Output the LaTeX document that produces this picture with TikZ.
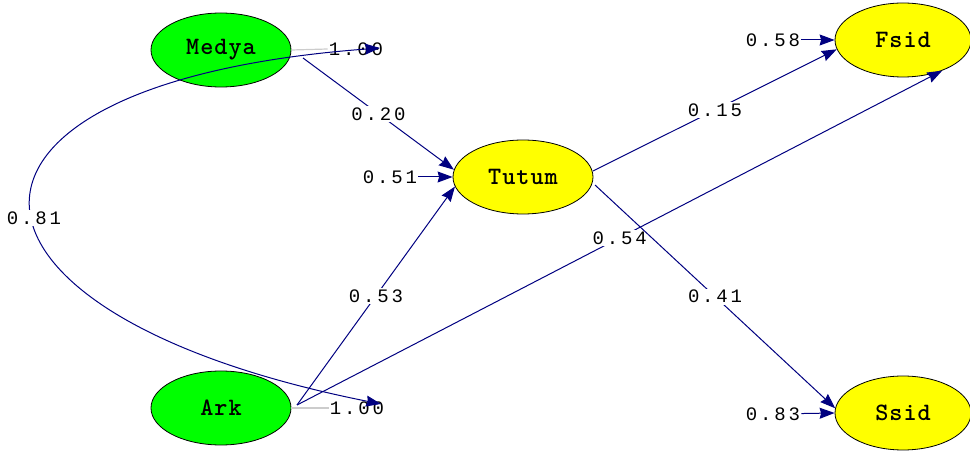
\documentclass[tikz,border=0pt]{standalone}
\usepackage{fontspec}
\newfontfamily\lisfont{Liberation Mono}[LetterSpace=15]
\newfontfamily\latfont{lmmonolt10-bold}[Extension=.otf, LetterSpace=4]
\usepackage{xcolor}
\usetikzlibrary{arrows.meta, positioning, shapes.geometric}
\definecolor{pathblue}{RGB}{0,0,128}
\definecolor{exgreen}{RGB}{0,255,0}
\definecolor{enyellow}{RGB}{255,255,0}
\tikzset{
    x=1pt, y=-1pt, % one unit is one pixel of the original
    every node/.style={text=black, font=\lisfont\fontsize{19}{19}\selectfont}, % typewriter look
    latent/.style={ellipse, draw=black, line width=0.8pt, minimum width=140pt, minimum height=74pt, inner sep=0pt, font=\latfont\fontsize{25}{25}\selectfont},
    exog/.style={latent, fill=exgreen}, % independent variables
    endog/.style={latent, fill=enyellow}, % dependent variables
    coef/.style={fill=white, inner sep=1.5pt}, % path coefficients
}
\tikzstyle{arrow} = [color=pathblue, line width=1pt, -{Stealth[length=15pt, width=11pt, inset=1.5pt]}]
\tikzstyle{covar} = [color=pathblue, line width=1pt, {Stealth[length=15pt, width=11pt, inset=1.5pt]}-{Stealth[length=15pt, width=11pt, inset=1.5pt]}]
\tikzstyle{varline} = [draw=gray!40, line width=1.2pt]

\begin{document}
\begin{tikzpicture}
    \useasboundingbox (0,0) rectangle (970,454);

    \node[exog] (medya) at (221,50) {Medya};
    \node[exog] (ark) at (221,408) {Ark};
    \node[endog] (tutum) at (523,177) {Tutum};
    \node[endog, minimum width=136pt] (fsid) at (903,40) {Fsid};
    \node[endog, minimum width=136pt] (ssid) at (903,413) {Ssid};

    \node[inner sep=1pt] (medyavar) at (356,49) {1.00};
    \node[inner sep=1pt] (arkvar) at (357,408) {1.00};
    \node[inner sep=1pt] (tutumerr) at (390,177) {0.51};
    \node[inner sep=1pt] (fsiderr) at (773,40) {0.58};
    \node[inner sep=1pt] (ssiderr) at (773,414) {0.83};

    \coordinate (medyaout) at (303,58);
    \coordinate (arkout) at (297,405);
    \coordinate (tutumout1) at (593,171);
    \coordinate (tutumout2) at (595,185);
    \coordinate (covtop) at (380,48);
    \coordinate (covbot) at (381,404);

    \draw[varline] (medya.east) -- (medyavar.west);
    \draw[varline] (ark.east) -- (arkvar.west);

    \draw[covar] (covtop) .. controls (-90,83) and (-77,313) .. (covbot)
        node[coef, pos=0.53] {0.81};

    \path[arrow]
        (medyaout) edge node[coef] {0.20} (tutum.174)
        (arkout) edge node[coef] {0.53} (tutum.188)
        (arkout) edge node[coef] {0.54} (fsid.-38)
        (tutumout1) edge node[coef] {0.15} (fsid.188)
        (tutumout2) edge node[coef] {0.41} (ssid.176)
        (tutumerr) edge (tutum.west)
        (fsiderr) edge (fsid.west)
        (ssiderr) edge (ssid.west);
\end{tikzpicture}
\end{document}
